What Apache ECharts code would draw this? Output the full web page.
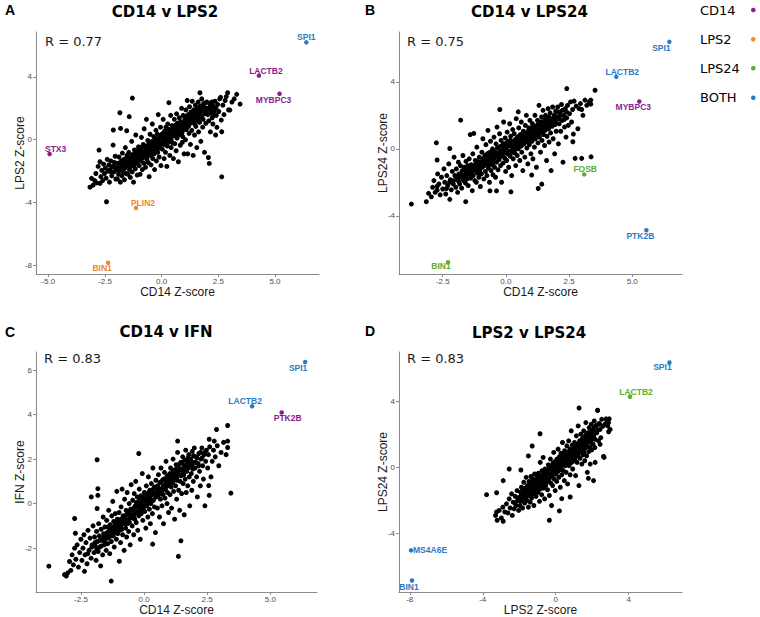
<!DOCTYPE html>
<html>
<head>
<meta charset="utf-8">
<script src="https://cdn.jsdelivr.net/npm/echarts@6/dist/echarts.min.js"></script>
<style>
html,body{margin:0;padding:0;background:#fff;}
#chart{width:760px;height:617px;}
</style>
</head>
<body>
<div id="chart"></div>
<script>
// ---------------- DATA ----------------
const panelTitles = ['CD14 v LPS2', 'CD14 v LPS24', 'CD14 v IFN', 'LPS2 v LPS24'];
const panelLetters = ['A', 'B', 'C', 'D'];
const rValues = ['0.77', '0.75', '0.83', '0.83'];
const xTitles = ['CD14 Z-score', 'CD14 Z-score', 'CD14 Z-score', 'LPS2 Z-score'];
const yTitles = ['LPS2 Z-score', 'LPS24 Z-score', 'IFN Z-score', 'LPS24 Z-score'];
const legendGroups = ['CD14', 'LPS2', 'LPS24', 'BOTH'];

const xTicksA = [-5, -2.5, 0, 2.5, 5];
const yTicksA = [-8, -4, 0, 4];
const xTicksB = [-2.5, 0, 2.5, 5];
const yTicksB = [-4, 0, 4];
const xTicksC = [-2.5, 0, 2.5, 5];
const yTicksC = [-2, 0, 2, 4, 6];
const xTicksD = [-8, -4, 0, 4];
const yTicksD = [-4, 0, 4];

// Panel A: CD14 (x) vs LPS2 (y)
const ptsCd14Lps2 = [
[-3.16,-3.02],[-3.09,-2.46],[-3.02,-2.89],[-2.95,-2.6],[-2.9,-2.15],[-2.86,-2.75],[-2.8,-1.7],[-2.76,-0.66],[-2.72,-2.78],[-2.72,-1.4],[-2.68,-2.35],[-2.64,-1.95],[-2.6,-2.6],[-2.56,-1.55],[-2.52,-2.15],[-2.48,-1.8],[-2.45,-2.45],[-2.43,-3.95],[-2.4,-1.25],[-2.36,-2.0],[-2.33,-1.6],[-2.3,-2.7],[-2.27,-1.9],[-2.24,-1.35],[-2.2,-2.3],[-2.17,-1.7],[-2.14,-0.34],[-2.13,0.62],[-2.1,-2.05],[-2.08,-1.45],[-2.05,-1.05],[-2.02,-2.5],[-2.0,-1.8],
[-1.98,-1.85],[-1.95,-2.5],[-1.93,-1.5],[-1.9,-2.2],[-1.88,-1.1],[-1.84,1.72],[-1.85,-1.7],[-1.82,-2.7],[-1.81,0.72],[-1.8,-1.95],[-1.78,-1.35],[-1.75,-2.3],[-1.73,-0.85],[-1.7,-1.6],[-1.68,-2.05],[-1.66,-1.25],[-1.64,-2.55],[-1.62,-1.8],[-1.6,-0.5],[-1.58,-1.45],[-1.56,-2.15],[-1.54,0.57],[-1.53,-1.0],[-1.51,-1.65],
[-1.49,-2.2],[-1.47,-1.35],[-1.45,-0.8],[-1.43,1.47],[-1.42,-1.9],[-1.4,-1.5],[-1.38,-2.4],[-1.36,-1.15],[-1.34,-1.7],[-1.32,-0.1],[-1.3,-2.05],[-1.29,2.65],[-1.28,-0.95],[-1.26,-1.4],[-1.24,-2.7],[-1.22,-1.6],[-1.2,-0.65],[-1.18,-1.25],[-1.16,-1.85],[-1.14,0.3],[-1.12,-1.05],[-1.1,-1.5],[-1.08,-2.25],[-1.06,-0.8],[-1.04,-1.3],[-1.02,-0.45],
[-0.99,-1.65],[-0.97,-1.0],[-0.95,-2.2],[-0.93,-0.5],[-0.91,-1.35],[-0.89,0.15],[-0.87,-0.8],[-0.85,-1.9],[-0.83,-1.15],[-0.81,-0.3],[-0.79,-1.5],[-0.77,0.7],[-0.75,-0.65],[-0.73,-1.0],[-0.71,-1.75],[-0.69,-0.4],[-0.67,1.3],[-0.65,-1.25],[-0.63,-0.75],[-0.61,-0.05],[-0.59,-1.45],[-0.57,-0.9],[-0.55,-2.35],[-0.53,-0.55],[-0.51,0.35],
[-0.49,-1.0],[-0.47,-1.6],[-0.45,-0.25],[-0.43,-0.7],[-0.41,1.0],[-0.39,-1.2],[-0.37,-0.5],[-0.35,0.2],[-0.33,-0.9],[-0.31,-1.9],[-0.29,-0.1],[-0.27,-0.6],[-0.25,0.6],[-0.23,-1.35],[-0.21,-0.35],[-0.19,0.35],[-0.17,-0.8],[-0.15,1.6],[-0.13,-0.15],[-0.11,-1.1],[-0.09,0.1],[-0.07,-0.5],[-0.05,0.8],[-0.03,-1.65],[-0.01,-0.25],
[0.01,0.35],[0.03,-0.6],[0.05,0.1],[0.07,1.3],[0.09,-0.3],[0.11,-1.2],[0.13,0.55],[0.15,-0.05],[0.17,-0.8],[0.19,0.8],[0.21,0.2],[0.23,-1.7],[0.25,-0.4],[0.27,1.0],[0.29,0.4],[0.31,-0.15],[0.32,2.36],[0.34,0.65],[0.36,-1.0],[0.38,0.1],[0.4,1.55],[0.42,-0.5],[0.44,0.3],[0.46,0.9],[0.48,-0.2],
[0.5,0.65],[0.52,-1.2],[0.54,0.25],[0.56,1.3],[0.58,-0.25],[0.6,0.85],[0.62,0.45],[0.64,-0.7],[0.66,1.65],[0.68,0.1],[0.7,1.05],[0.72,0.6],[0.74,-1.4],[0.76,0.3],[0.78,1.4],[0.8,0.75],[0.82,-0.35],[0.84,1.15],[0.86,0.45],[0.88,2.0],[0.9,0.9],[0.91,-0.17],[0.93,0.2],[0.95,1.55],[0.97,0.65],[0.99,-0.9],
[1.01,1.45],[1.03,1.0],[1.05,0.0],[1.07,1.9],[1.09,0.65],[1.11,1.25],[1.13,2.5],[1.15,-0.9],[1.17,1.6],[1.19,0.9],[1.21,0.4],[1.23,2.1],[1.25,1.35],[1.27,-0.3],[1.29,1.75],[1.31,1.1],[1.33,0.6],[1.35,2.45],[1.37,1.5],[1.39,-1.0],[1.41,1.9],[1.43,1.25],[1.45,0.3],[1.47,1.65],[1.49,2.2],
[1.51,0.85],[1.53,1.45],[1.55,-0.5],[1.57,2.0],[1.59,1.3],[1.61,2.4],[1.63,0.5],[1.65,1.7],[1.67,1.1],[1.69,2.99],[1.71,2.15],[1.73,-0.1],[1.75,1.5],[1.77,2.6],[1.79,1.85],[1.81,0.8],[1.83,1.3],[1.85,2.3],[1.87,2.05],[1.89,-0.8],[1.91,1.65],[1.93,2.35],[1.95,1.05],[1.97,1.8],[1.99,2.4],
[2.02,1.95],[2.06,-1.13],[2.08,1.2],[2.1,-1.51],[2.12,2.3],[2.15,0.5],[2.18,1.7],[2.2,2.4],[2.23,1.4],[2.26,1.0],[2.29,2.1],[2.32,1.8],[2.35,2.45],[2.38,0.3],[2.41,1.55],[2.44,0.79],[2.47,2.25],
[2.52,1.8],[2.56,2.6],[2.6,2.7],[2.63,1.25],[2.65,0.51],[2.65,-2.36],[2.7,2.2],[2.75,1.6],[2.8,2.5],[2.85,2.75],[2.91,2.99],[2.95,1.9],[3.01,1.89],[3.1,2.4],[3.2,2.6],[3.31,2.89],[3.46,2.27],
[-2.23,-2.05],[-2.07,-1.75],[-1.94,-1.95],[-1.87,-1.55],[-1.76,-1.75],[-1.69,-1.4],[-1.61,-1.55],[-1.57,-1.2],[-1.48,-1.6],[-1.44,-1.25],[-1.37,-1.55],[-1.33,-1.05],[-1.27,-1.25],[-1.21,-0.95],[-1.17,-1.45],[-1.13,-0.85],[-1.07,-1.1],[-1.03,-0.65],[-0.96,-1.25],[-0.92,-0.75],[-0.88,-1.05],[-0.84,-0.6],[-0.78,-0.95],[-0.74,-0.45],[-0.7,-0.8],[-0.66,-0.55],[-0.62,-1.05],[-0.58,-0.35],[-0.54,-0.75],[-0.5,-0.2],[-0.46,-0.55],[-0.42,-0.1],[-0.38,-0.85],[-0.34,-0.3],[-0.3,-0.6],[-0.26,0.05],[-0.22,-0.45],[-0.18,-0.05],[-0.14,-0.55],[-0.1,0.25],[-0.06,-0.3],[-0.02,0.15],[0.02,-0.15],[0.06,0.4],[0.1,0.0],[0.14,0.25],[0.18,-0.3],[0.22,0.5],[0.26,0.1],[0.3,0.65],[0.34,0.2],[0.38,0.45],[0.42,0.0],[0.46,0.55],[0.5,0.3],[0.54,0.75],[0.58,0.45],[0.62,0.95],[0.66,0.6],[0.7,0.3],[0.74,0.85],[0.78,0.55],[0.82,1.1],[0.86,0.8],[0.9,0.45],[0.94,1.05],[0.98,0.8],[1.02,1.25],[1.06,0.95],[1.1,1.5],[1.14,1.15],[1.18,0.85],[1.22,1.35],[1.26,1.05],[1.3,1.55],[1.34,1.25],[1.38,1.75],[1.42,1.45],[1.46,1.0],[1.5,1.6],[1.54,1.85],[1.58,1.5],[1.62,1.2],[1.66,1.95],[1.7,1.6],[1.74,1.85],[1.78,1.4],[1.84,2.1],[1.9,1.8],[1.96,2.0],[2.04,1.6],[2.1,2.05],[2.16,1.9],[2.24,2.2],[2.3,1.55],[2.4,2.0]
];

// Panel B: CD14 (x) vs LPS24 (y)
const ptsCd14Lps24 = [
[-3.74,-3.3],[-3.15,-3.16],[-3.06,-2.66],[-2.95,-2.87],[-2.75,0.36],[-2.72,-0.67],[-2.72,-2.47],[-2.72,-2.23],[-2.35,-2.37],[-2.22,0.02],[-1.79,1.71],[-1.59,-3.16],[-0.24,2.35],[0.49,2.21],[0.2,-2.57],[2.41,3.6],[3.53,3.5],[3.36,2.91],[3.36,2.67],[2.74,-0.57],[3.0,-0.57],[3.37,-0.48],[1.28,-2.37],[1.42,-2.11],[1.02,-1.57],[-0.63,-2.51],[-0.37,-2.51],[2.65,0.42],[2.67,0.88],[3.0,2.35],[3.13,2.91],
[-2.9,-2.3],[-2.85,-1.9],[-2.8,-2.6],[-2.7,-1.5],[-2.65,-2.1],[-2.6,-2.75],[-2.55,-1.7],[-2.5,-2.4],[-2.45,-1.2],[-2.42,-2.0],[-2.38,-2.7],[-2.34,-1.6],[-2.3,-2.2],[-2.26,-0.9],[-2.22,-3.02],[-2.2,-1.85],[-2.16,-2.45],[-2.12,-1.35],[-2.08,-2.1],[-2.05,-0.5],[-2.02,-1.6],
[-1.98,-2.3],[-1.96,-1.2],[-1.93,-1.8],[-1.91,-2.6],[-1.88,-0.8],[-1.86,-1.5],[-1.83,-2.1],[-1.8,-1.0],[-1.78,-1.7],[-1.75,-2.35],[-1.73,-1.3],[-1.7,-0.4],[-1.68,-1.9],[-1.65,-1.1],[-1.62,-1.55],[-1.6,-2.05],[-1.58,-0.75],[-1.55,-1.35],[-1.53,-1.8],[-1.51,-1.0],
[-1.49,-2.2],[-1.47,-1.5],[-1.45,-0.6],[-1.43,-1.15],[-1.41,0.85],[-1.39,-1.75],[-1.37,-0.95],[-1.35,-1.35],[-1.33,-2.5],[-1.31,-0.3],[-1.29,-1.6],[-1.27,0.92],[-1.25,-1.0],[-1.23,-1.9],[-1.21,-0.7],[-1.19,-1.25],[-1.17,-2.0],[-1.15,0.1],[-1.13,-1.45],[-1.11,-0.85],[-1.09,-1.15],[-1.07,-1.7],[-1.05,-0.5],[-1.03,-1.3],[-1.01,-2.25],
[-0.99,-0.9],[-0.97,-1.5],[-0.95,-0.2],[-0.93,-1.1],[-0.91,0.6],[-0.89,-0.7],[-0.87,-1.8],[-0.85,-1.0],[-0.83,-0.4],[-0.81,-1.35],[-0.79,0.25],[-0.77,-0.85],[-0.75,-1.6],[-0.73,-0.55],[-0.71,1.1],[-0.69,-1.15],[-0.67,-0.25],[-0.65,-2.0],[-0.63,-0.75],[-0.61,0.45],[-0.59,-1.3],[-0.57,-0.5],[-0.55,-0.95],[-0.53,0.0],[-0.51,-1.55],
[-0.49,-0.6],[-0.47,0.7],[-0.45,-1.1],[-0.43,-0.3],[-0.41,-1.7],[-0.39,0.3],[-0.37,-0.8],[-0.35,1.3],[-0.33,-0.45],[-0.31,-1.25],[-0.29,0.05],[-0.27,-0.65],[-0.25,0.9],[-0.23,-0.2],[-0.21,-1.0],[-0.19,0.5],[-0.17,-2.0],[-0.15,-0.4],[-0.13,0.2],[-0.11,-0.85],[-0.09,1.6],[-0.07,-0.1],[-0.05,-0.55],[-0.03,0.65],[-0.01,-1.35],
[0.01,0.1],[0.03,-0.7],[0.05,1.0],[0.07,-0.3],[0.09,0.45],[0.11,-1.1],[0.13,0.2],[0.15,1.5],[0.17,-0.45],[0.19,0.75],[0.21,-0.1],[0.23,-1.6],[0.25,0.35],[0.27,1.15],[0.29,-0.6],[0.31,0.05],[0.33,0.9],[0.35,-0.25],[0.37,0.55],[0.39,-1.0],[0.41,1.8],[0.43,0.25],[0.45,-0.4],[0.47,0.7],[0.49,0.0],
[0.51,1.25],[0.53,0.4],[0.55,-0.7],[0.57,0.85],[0.59,0.15],[0.61,1.6],[0.63,-0.2],[0.65,0.6],[0.67,-1.3],[0.69,1.05],[0.71,0.3],[0.73,0.8],[0.75,-0.5],[0.77,1.4],[0.79,0.5],[0.81,2.0],[0.83,0.05],[0.85,0.95],[0.87,-0.9],[0.89,0.65],[0.91,1.25],[0.93,0.25],[0.95,1.7],[0.97,0.75],[0.99,-0.3],
[1.01,1.0],[1.03,0.45],[1.05,1.5],[1.07,-0.6],[1.09,0.8],[1.11,1.2],[1.13,0.1],[1.15,2.0],[1.17,0.6],[1.19,1.35],[1.21,-1.1],[1.23,0.95],[1.25,1.7],[1.27,0.35],[1.29,1.15],[1.31,2.6],[1.33,0.7],[1.35,1.45],[1.37,-0.2],[1.39,1.0],[1.41,1.9],[1.43,0.5],[1.45,1.3],[1.47,2.3],[1.49,0.85],
[1.51,1.6],[1.53,0.2],[1.55,1.1],[1.57,2.0],[1.59,1.4],[1.61,-0.7],[1.63,0.75],[1.65,1.75],[1.67,2.4],[1.69,1.2],[1.71,0.4],[1.73,1.55],[1.75,2.15],[1.77,0.95],[1.79,-1.3],[1.81,1.8],[1.83,1.35],[1.85,2.5],[1.87,0.6],[1.89,1.65],[1.91,2.0],[1.93,-0.3],[1.95,1.45],[1.97,2.25],[1.99,1.05],
[2.02,1.9],[2.05,2.5],[2.08,0.3],[2.11,1.5],[2.14,2.2],[2.17,1.05],[2.2,2.65],[2.23,1.7],[2.26,-0.8],[2.29,2.0],[2.32,1.3],[2.35,2.4],[2.38,0.7],[2.41,1.85],[2.44,2.6],[2.47,1.4],
[2.52,2.1],[2.56,2.8],[2.6,1.6],[2.64,2.35],[2.7,2.85],[2.78,2.55],[2.85,1.2],[2.9,2.4],[2.95,2.7],[3.05,2.0],[3.2,2.6],[3.3,2.8],
[-2.23,-2.0],[-2.07,-1.9],[-1.94,-1.7],[-1.87,-1.95],[-1.76,-1.55],[-1.69,-1.75],[-1.61,-1.3],[-1.57,-1.6],[-1.48,-1.25],[-1.44,-1.5],[-1.37,-1.15],[-1.33,-1.4],[-1.27,-1.2],[-1.21,-0.95],[-1.17,-1.35],[-1.13,-0.75],[-1.07,-1.05],[-1.03,-0.8],[-0.96,-1.05],[-0.92,-0.6],[-0.88,-0.9],[-0.84,-0.55],[-0.78,-0.75],[-0.74,-0.3],[-0.7,-0.95],[-0.66,-0.45],[-0.62,-0.2],[-0.58,-0.7],[-0.54,-0.35],[-0.5,-0.85],[-0.46,-0.15],[-0.42,-0.5],[-0.38,-0.25],[-0.34,0.05],[-0.3,-0.55],[-0.26,-0.3],[-0.22,0.15],[-0.18,-0.45],[-0.14,-0.1],[-0.1,0.3],[-0.06,-0.25],[-0.02,0.1],[0.02,0.35],[0.06,-0.1],[0.1,0.2],[0.14,-0.35],[0.18,0.5],[0.22,0.15],[0.26,-0.2],[0.3,0.45],[0.34,0.3],[0.38,0.0],[0.42,0.6],[0.46,0.35],[0.5,0.15],[0.54,0.75],[0.58,0.5],[0.62,0.2],[0.66,0.9],[0.7,0.6],[0.74,0.35],[0.78,0.95],[0.82,0.7],[0.86,0.45],[0.9,1.1],[0.94,0.8],[0.98,0.55],[1.02,1.25],[1.06,0.9],[1.1,0.65],[1.14,1.3],[1.18,1.05],[1.22,0.8],[1.26,1.45],[1.3,1.15],[1.34,0.95],[1.38,1.6],[1.42,1.25],[1.46,1.05],[1.5,1.4],[1.54,1.75],[1.58,1.2],[1.62,1.55],[1.66,1.3],[1.7,1.9],[1.74,1.45],[1.78,1.7],[1.84,1.5],[1.9,1.85],[1.96,1.65],[2.04,2.2],[2.1,1.8],[2.16,2.0],[2.24,2.3],[2.3,1.75],[2.4,2.2]
];

// Panel C: CD14 (x) vs IFN (y)
const ptsCd14Ifn = [
[-3.77,-2.81],[-3.15,-3.19],[-3.02,-3.11],[-3.08,-3.25],[-2.36,-3.04],[-1.86,1.97],[-2.09,0.3],[-1.83,0.37],[-1.83,0.67],[-1.86,-0.22],[-2.75,-0.67],[-2.72,-1.33],[-0.98,-2.59],[-1.3,-3.48],[0.34,-1.82],[1.46,-1.67],[1.36,-2.37],[3.44,0.47],[3.31,3.51],[2.87,3.33],[2.58,2.89],[2.78,2.81],[3.31,2.81],[3.31,2.52],[1.33,2.81],[-0.21,2.25],[2.58,0.37],[2.56,0.81],
[-2.95,-2.6],[-2.9,-3.0],[-2.85,-2.3],[-2.8,-2.75],[-2.75,-2.0],[-2.7,-2.5],[-2.65,-1.85],[-2.6,-2.85],[-2.55,-2.2],[-2.5,-1.6],[-2.46,-2.55],[-2.42,-2.0],[-2.38,-1.4],[-2.34,-2.3],[-2.3,-1.75],[-2.26,-2.7],[-2.22,-1.2],[-2.18,-2.1],[-2.14,-1.55],[-2.1,-2.45],[-2.06,-1.85],[-2.02,-1.0],
[-1.98,-2.2],[-1.96,-1.5],[-1.93,-1.9],[-1.9,-2.55],[-1.88,-1.25],[-1.85,-1.7],[-1.82,-2.15],[-1.8,-0.9],[-1.77,-1.45],[-1.75,-1.95],[-1.72,-2.8],[-1.7,-1.15],[-1.67,-1.65],[-1.64,-2.3],[-1.62,-0.6],[-1.6,-1.35],[-1.57,-1.85],[-1.55,-1.05],[-1.52,-1.55],[-1.5,-2.1],
[-1.48,-0.75],[-1.46,-1.3],[-1.44,-1.8],[-1.42,-1.05],[-1.4,-0.3],[-1.38,-1.5],[-1.36,-2.25],[-1.34,-0.95],[-1.32,-1.25],[-1.3,-1.7],[-1.28,-0.55],[-1.26,-1.1],[-1.24,0.1],[-1.22,-1.45],[-1.2,-0.8],[-1.18,-1.95],[-1.16,-1.2],[-1.14,-0.45],[-1.12,-1.0],[-1.1,-1.6],[-1.08,0.55],[-1.06,-0.7],[-1.04,-1.35],[-1.02,-0.95],
[-0.99,-0.4],[-0.97,-1.2],[-0.95,-0.75],[-0.93,-1.75],[-0.91,-0.15],[-0.89,-0.95],[-0.87,0.65],[-0.85,-1.4],[-0.83,-0.55],[-0.81,-0.85],[-0.79,-2.1],[-0.77,0.2],[-0.75,-0.7],[-0.73,-1.1],[-0.71,-0.3],[-0.69,-1.5],[-0.67,0.5],[-0.65,-0.9],[-0.63,-0.45],[-0.61,-1.25],[-0.59,0.0],[-0.57,-0.65],[-0.55,-1.85],[-0.53,-0.25],[-0.51,0.85],
[-0.49,-0.5],[-0.47,-1.0],[-0.45,0.15],[-0.43,-0.3],[-0.41,-1.4],[-0.39,0.45],[-0.37,-0.7],[-0.35,-0.1],[-0.33,1.0],[-0.31,-0.85],[-0.29,-0.4],[-0.27,0.3],[-0.25,-1.2],[-0.23,0.0],[-0.21,-0.55],[-0.19,0.65],[-0.17,-0.2],[-0.15,-1.6],[-0.13,0.35],[-0.11,-0.45],[-0.09,0.1],[-0.07,1.35],[-0.05,-0.75],[-0.03,0.25],[-0.01,-0.1],
[0.01,0.5],[0.03,-0.35],[0.05,0.1],[0.07,-1.1],[0.09,0.8],[0.11,-0.05],[0.13,0.35],[0.15,-0.6],[0.17,1.2],[0.19,0.2],[0.21,-0.25],[0.23,0.6],[0.25,-0.9],[0.27,0.0],[0.29,0.9],[0.31,0.4],[0.33,-0.45],[0.35,1.6],[0.37,0.15],[0.39,0.7],[0.41,-0.15],[0.43,0.45],[0.45,-1.3],[0.47,1.05],[0.49,0.3],
[0.51,0.75],[0.53,-0.2],[0.55,0.35],[0.57,1.3],[0.59,0.55],[0.61,-0.6],[0.63,0.95],[0.65,0.2],[0.67,1.6],[0.69,0.6],[0.71,-0.1],[0.73,1.05],[0.75,0.4],[0.77,-0.9],[0.79,0.8],[0.81,1.4],[0.83,0.25],[0.85,0.65],[0.87,1.9],[0.89,1.0],[0.91,0.0],[0.93,0.5],[0.95,1.25],[0.97,-0.4],[0.99,0.85],
[1.01,1.1],[1.03,0.4],[1.05,1.6],[1.07,0.75],[1.09,-0.2],[1.11,1.3],[1.13,0.95],[1.15,2.0],[1.17,0.55],[1.19,1.15],[1.21,-0.7],[1.23,1.45],[1.25,0.8],[1.27,1.75],[1.29,0.2],[1.31,1.05],[1.33,2.3],[1.35,1.3],[1.37,0.6],[1.39,1.55],[1.41,-0.3],[1.43,1.0],[1.45,1.85],[1.47,1.25],[1.49,0.45],
[1.51,1.5],[1.53,2.1],[1.55,0.9],[1.57,1.3],[1.59,-0.5],[1.61,1.7],[1.63,1.1],[1.65,2.4],[1.67,0.5],[1.69,1.45],[1.71,1.9],[1.73,0.8],[1.75,1.6],[1.77,2.2],[1.79,1.2],[1.81,-0.1],[1.83,1.75],[1.85,2.0],[1.87,1.35],[1.89,0.6],[1.91,2.35],[1.93,1.55],[1.95,1.0],[1.97,1.85],[1.99,2.5],
[2.02,1.6],[2.05,2.1],[2.08,1.2],[2.11,0.3],[2.14,1.8],[2.17,2.25],[2.2,1.45],[2.23,0.8],[2.26,2.0],[2.29,2.5],[2.32,1.7],[2.35,1.1],[2.38,2.2],[2.41,-0.1],[2.44,1.9],[2.47,2.4],
[2.52,1.6],[2.55,2.2],[2.6,2.55],[2.65,1.2],[2.7,1.9],[2.75,2.4],[2.82,2.1],[2.9,2.6],[2.96,1.7],[3.05,2.3],[3.15,2.75],[3.25,2.2],
[-2.23,-2.25],[-2.07,-1.95],[-1.94,-1.75],[-1.87,-2.05],[-1.76,-1.65],[-1.69,-1.9],[-1.61,-1.5],[-1.57,-1.7],[-1.48,-1.4],[-1.44,-1.55],[-1.37,-1.2],[-1.33,-1.45],[-1.27,-1.35],[-1.21,-1.05],[-1.17,-1.3],[-1.13,-0.95],[-1.07,-1.15],[-1.03,-0.8],[-0.96,-1.0],[-0.92,-0.7],[-0.88,-1.15],[-0.84,-0.8],[-0.78,-0.6],[-0.74,-0.9],[-0.7,-0.5],[-0.66,-0.75],[-0.62,-0.35],[-0.58,-0.85],[-0.54,-0.5],[-0.5,-0.3],[-0.46,-0.65],[-0.42,-0.2],[-0.38,-0.5],[-0.34,-0.3],[-0.3,0.05],[-0.26,-0.4],[-0.22,-0.15],[-0.18,0.2],[-0.14,-0.3],[-0.1,-0.05],[-0.06,0.3],[-0.02,-0.25],[0.02,0.15],[0.06,0.4],[0.1,-0.1],[0.14,0.2],[0.18,0.5],[0.22,0.1],[0.26,0.35],[0.3,0.6],[0.34,0.15],[0.38,0.45],[0.42,0.75],[0.46,0.3],[0.5,0.55],[0.54,0.8],[0.58,0.4],[0.62,0.65],[0.66,0.95],[0.7,0.5],[0.74,0.75],[0.78,1.1],[0.82,0.65],[0.86,0.9],[0.9,1.2],[0.94,0.8],[0.98,1.05],[1.02,1.35],[1.06,0.95],[1.1,1.2],[1.14,1.5],[1.18,1.05],[1.22,1.3],[1.26,1.55],[1.3,1.2],[1.34,1.45],[1.38,1.75],[1.42,1.3],[1.46,1.55],[1.5,1.85],[1.54,1.45],[1.58,1.7],[1.62,1.95],[1.66,1.6],[1.7,1.75],[1.74,2.05],[1.78,1.65],[1.84,1.9],[1.9,1.7],[1.96,2.15],[2.04,1.85],[2.1,2.05],[2.16,1.7],[2.24,2.3],[2.3,2.05],[2.4,2.3]
];

// Panel D: LPS2 (x) vs LPS24 (y)
const ptsLps2Lps24 = [
[-3.79,-1.65],[-3.24,-1.53],[-3.21,-3.19],[-3.24,-2.69],[-2.88,-3.25],[-2.88,-0.8],[-2.55,-0.1],[-1.91,-0.16],[-0.86,2.03],[-1.5,0.69],[-0.35,-3.19],[1.28,3.58],[2.29,3.44],[2.65,0.6],[1.79,-0.66],[2.07,-0.8],[0.79,-1.79],[0.33,-1.89],
[-3.3,-2.9],[-3.1,-2.6],[-2.98,-3.05],[-2.9,-2.4],[-2.79,-2.69],[-2.7,-2.2],[-2.62,-2.75],[-2.55,-1.9],[-2.5,-2.45],[-2.42,-1.6],[-2.38,-2.9],[-2.33,-2.1],[-2.28,-2.5],[-2.22,-1.75],[-2.18,-2.3],[-2.12,-1.4],[-2.08,-2.0],[-2.03,-2.6],
[-1.98,-1.8],[-1.96,-2.3],[-1.93,-1.5],[-1.9,-2.05],[-1.88,-1.2],[-1.85,-1.7],[-1.82,-2.45],[-1.8,-1.35],[-1.77,-1.9],[-1.75,-0.9],[-1.72,-1.55],[-1.7,-2.15],[-1.67,-1.25],[-1.64,-1.75],[-1.62,-0.6],[-1.6,-1.45],[-1.57,-2.0],[-1.55,-1.1],[-1.52,-1.6],[-1.5,-2.4],
[-1.48,-1.3],[-1.46,-0.85],[-1.44,-1.7],[-1.42,-1.05],[-1.4,-2.1],[-1.38,-1.4],[-1.36,-0.55],[-1.34,-1.15],[-1.32,-1.85],[-1.3,-0.9],[-1.29,1.29],[-1.28,-1.35],[-1.26,-0.7],[-1.24,-1.6],[-1.22,-1.0],[-1.2,-2.3],[-1.18,-1.2],[-1.16,-0.4],[-1.14,-0.95],[-1.12,-1.45],[-1.1,-0.75],[-1.08,-1.75],[-1.06,-1.05],[-1.04,-0.5],[-1.02,-1.25],
[-0.99,-0.85],[-0.97,-1.5],[-0.95,-0.35],[-0.93,-1.1],[-0.91,-0.65],[-0.89,-2.05],[-0.87,-0.9],[-0.85,0.3],[-0.83,-1.3],[-0.81,-0.5],[-0.79,-0.75],[-0.77,-1.65],[-0.75,-0.2],[-0.73,-1.0],[-0.71,-0.6],[-0.69,0.6],[-0.67,-1.25],[-0.65,-0.45],[-0.63,-0.85],[-0.61,-1.9],[-0.59,-0.1],[-0.57,-0.7],[-0.55,-1.1],[-0.53,-0.35],[-0.51,-0.6],
[-0.49,-0.9],[-0.47,-0.2],[-0.45,-1.35],[-0.43,-0.55],[-0.41,0.15],[-0.39,-0.75],[-0.37,-0.35],[-0.35,-1.7],[-0.33,-0.05],[-0.31,-0.6],[-0.29,0.5],[-0.27,-0.95],[-0.25,-0.3],[-0.23,-2.3],[-0.21,0.05],[-0.19,-0.5],[-0.17,-1.1],[-0.15,0.25],[-0.13,-0.15],[-0.11,0.9],[-0.09,-0.7],[-0.07,-0.25],[-0.05,0.35],[-0.03,-1.4],[-0.01,0.0],
[0.01,-0.4],[0.03,0.2],[0.05,-0.85],[0.07,0.5],[0.09,0.0],[0.11,-0.25],[0.13,1.1],[0.15,0.3],[0.17,-0.6],[0.19,0.1],[0.2,-2.63],[0.21,0.65],[0.23,-0.15],[0.25,-1.2],[0.27,0.4],[0.29,0.85],[0.31,0.1],[0.33,-0.45],[0.35,0.6],[0.37,1.5],[0.39,0.25],[0.41,-0.2],[0.43,0.75],[0.45,0.35],[0.47,-0.8],[0.49,1.0],
[0.51,0.5],[0.53,0.1],[0.55,0.9],[0.57,-0.3],[0.59,0.65],[0.61,1.3],[0.63,0.3],[0.65,-1.0],[0.67,0.85],[0.69,0.45],[0.71,1.6],[0.73,0.1],[0.75,0.7],[0.77,1.1],[0.79,-0.45],[0.81,0.55],[0.83,0.95],[0.85,2.2],[0.87,0.3],[0.89,0.8],[0.91,1.35],[0.93,-0.1],[0.95,0.65],[0.97,1.05],[0.99,0.4],
[1.01,0.9],[1.03,1.5],[1.05,0.5],[1.07,1.15],[1.09,-0.5],[1.11,0.8],[1.13,1.9],[1.15,1.0],[1.17,0.3],[1.19,1.35],[1.21,0.7],[1.23,2.5],[1.25,1.1],[1.27,-1.1],[1.29,0.9],[1.31,1.6],[1.33,0.55],[1.35,1.25],[1.37,2.0],[1.39,0.95],[1.41,1.45],[1.43,0.2],[1.45,1.15],[1.47,1.75],[1.49,0.75],
[1.51,1.3],[1.53,2.2],[1.55,0.9],[1.57,1.6],[1.59,0.4],[1.61,1.15],[1.63,1.9],[1.65,2.7],[1.67,1.4],[1.69,0.7],[1.71,1.75],[1.73,-0.3],[1.75,1.25],[1.77,2.1],[1.79,1.55],[1.81,0.95],[1.83,2.4],[1.85,1.8],[1.87,1.2],[1.89,0.2],[1.91,2.0],[1.93,1.5],[1.95,2.6],[1.97,1.05],[1.99,1.7],
[2.02,2.25],[2.05,1.4],[2.08,1.9],[2.11,2.8],[2.14,1.2],[2.16,1.69],[2.16,0.3],[2.2,2.5],[2.25,2.09],[2.3,3.44],[2.34,1.6],[2.38,2.65],[2.43,2.29],[2.43,1.39],[2.47,1.79],[2.52,2.9],[2.58,2.48],[2.62,0.66],[2.7,2.6],[2.76,2.93],[2.8,2.84],[2.85,2.5],[2.89,2.69],[2.93,2.93],[2.98,2.29],[2.9,2.15],
[-2.23,-2.15],[-2.07,-1.85],[-1.94,-1.9],[-1.87,-1.6],[-1.76,-1.65],[-1.69,-1.85],[-1.61,-1.5],[-1.57,-1.7],[-1.48,-1.55],[-1.44,-1.3],[-1.37,-1.5],[-1.33,-1.2],[-1.27,-1.45],[-1.21,-1.15],[-1.17,-0.95],[-1.13,-1.25],[-1.07,-0.9],[-1.03,-1.15],[-0.96,-0.95],[-0.92,-0.75],[-0.88,-1.1],[-0.84,-0.7],[-0.78,-0.9],[-0.74,-0.55],[-0.7,-0.8],[-0.66,-0.65],[-0.62,-0.4],[-0.58,-0.85],[-0.54,-0.5],[-0.5,-0.25],[-0.46,-0.6],[-0.42,-0.35],[-0.38,-0.1],[-0.34,-0.5],[-0.3,-0.25],[-0.26,0.1],[-0.22,-0.35],[-0.18,-0.1],[-0.14,0.15],[-0.1,-0.3],[-0.06,0.05],[-0.02,-0.2],[0.02,0.3],[0.06,0.05],[0.1,-0.15],[0.14,0.35],[0.18,0.1],[0.22,0.45],[0.26,0.2],[0.3,-0.05],[0.34,0.45],[0.38,0.3],[0.42,0.55],[0.46,0.15],[0.5,0.7],[0.54,0.45],[0.58,0.25],[0.62,0.75],[0.66,0.5],[0.7,0.9],[0.74,0.55],[0.78,0.8],[0.82,0.35],[0.86,1.0],[0.9,0.7],[0.94,1.1],[0.98,0.85],[1.02,0.6],[1.06,1.2],[1.1,0.95],[1.14,1.35],[1.18,1.1],[1.22,0.9],[1.26,1.4],[1.3,1.2],[1.34,1.55],[1.38,1.25],[1.42,1.05],[1.46,1.55],[1.5,1.35],[1.54,1.75],[1.58,1.45],[1.62,1.6],[1.66,1.95],[1.7,1.5],[1.74,1.85],[1.78,1.7],[1.84,2.0],[1.9,1.75],[1.96,2.2],[2.04,1.9],[2.1,2.4],[2.16,2.1],[2.24,2.55],[2.3,2.25],[2.4,2.6]
];

// Highlighted genes per panel
const hlNamesA = ['SPI1', 'LACTB2', 'MYBPC3', 'STX3', 'PLIN2', 'BIN1'];
const hlXA = [6.38, 4.29, 5.2, -4.94, -1.13, -2.36];
const hlYA = [6.2, 4.08, 2.93, -0.91, -4.35, -7.83];
const hlGroupA = ['BOTH', 'CD14', 'CD14', 'CD14', 'LPS2', 'LPS2'];

const hlNamesB = ['SPI1', 'LACTB2', 'MYBPC3', 'FOSB', 'PTK2B', 'BIN1'];
const hlXB = [6.47, 4.37, 5.28, 3.1, 5.56, -2.29];
const hlYB = [6.39, 4.3, 2.83, -1.53, -4.87, -6.78];
const hlGroupB = ['BOTH', 'BOTH', 'CD14', 'LPS24', 'BOTH', 'LPS24'];

const hlNamesC = ['SPI1', 'LACTB2', 'PTK2B'];
const hlXC = [6.38, 4.28, 5.45];
const hlYC = [6.36, 4.37, 4.09];
const hlGroupC = ['BOTH', 'BOTH', 'CD14'];

const hlNamesD = ['SPI1', 'LACTB2', 'MS4A6E', 'BIN1'];
const hlXD = [6.23, 4.07, -7.93, -7.88];
const hlYD = [6.33, 4.26, -5.01, -6.83];
const hlGroupD = ['BOTH', 'LPS24', 'BOTH', 'BOTH'];

// ---------------- STYLE ----------------
const groupColors = { CD14: '#8c1c8c', LPS2: '#ee8a28', LPS24: '#5cae2c', BOTH: '#2a7ac6' };
const labelOffsets = [
  { SPI1: [0, -5], LACTB2: [7, -5], MYBPC3: [-6, 6], STX3: [6, -5], PLIN2: [7, -5], BIN1: [-6, 5] },
  { SPI1: [-8, 6], LACTB2: [6, -5], MYBPC3: [-6, 6], FOSB: [1, -5], PTK2B: [-6, 6], BIN1: [-7, 4] },
  { SPI1: [-7, 6], LACTB2: [-7, -5], PTK2B: [6, 5] },
  { SPI1: [-7, 5], LACTB2: [6, -5], MS4A6E: [19, 0], BIN1: [-3, 6] }
];
const grids = [
  { left: 36, top: 32, width: 283, height: 242 },
  { left: 399, top: 32, width: 283, height: 242 },
  { left: 36, top: 352, width: 281, height: 242 },
  { left: 399, top: 352, width: 283, height: 242 }
];
const ranges = [
  { x: [-5.54, 6.94], y: [-8.55, 6.86] },
  { x: [-4.23, 6.97], y: [-7.48, 6.98] },
  { x: [-4.28, 6.85], y: [-3.97, 6.81] },
  { x: [-8.59, 6.92], y: [-7.52, 6.96] }
];
const xTicks = [xTicksA, xTicksB, xTicksC, xTicksD];
const yTicks = [yTicksA, yTicksB, yTicksC, yTicksD];
const xFmt = [v => v.toFixed(1), v => v.toFixed(1), v => v.toFixed(1), v => String(Math.round(v))];
const points = [ptsCd14Lps2, ptsCd14Lps24, ptsCd14Ifn, ptsLps2Lps24];
const hl = [
  [hlNamesA, hlXA, hlYA, hlGroupA],
  [hlNamesB, hlXB, hlYB, hlGroupB],
  [hlNamesC, hlXC, hlYC, hlGroupC],
  [hlNamesD, hlXD, hlYD, hlGroupD]
];

const axisLineStyle = { color: '#8a8a8a', width: 1 };
const tickFont = { fontSize: 8, color: '#4d4d4d', fontFamily: '"Liberation Sans", Arial, sans-serif' };

const xAxes = [], yAxes = [], series = [];
for (let i = 0; i < 4; i++) {
  xAxes.push({
    type: 'value', gridIndex: i, min: ranges[i].x[0], max: ranges[i].x[1],
    name: xTitles[i], nameLocation: 'middle', nameGap: 12, nameMoveOverlap: false,
    nameTextStyle: { fontSize: 12, color: '#1a1a1a', fontFamily: '"Liberation Sans", Arial, sans-serif' },
    splitLine: { show: false },
    axisLine: { show: true, onZero: false, lineStyle: axisLineStyle },
    axisTick: { show: true, length: 3, lineStyle: axisLineStyle, customValues: xTicks[i] },
    axisLabel: Object.assign({ margin: 3, customValues: xTicks[i], formatter: xFmt[i] }, tickFont)
  });
  yAxes.push({
    type: 'value', gridIndex: i, min: ranges[i].y[0], max: ranges[i].y[1],
    name: yTitles[i], nameLocation: 'middle', nameGap: 10, nameMoveOverlap: false,
    nameTextStyle: { fontSize: 12, color: '#1a1a1a', fontFamily: '"Liberation Sans", Arial, sans-serif' },
    splitLine: { show: false },
    axisLine: { show: true, onZero: false, lineStyle: axisLineStyle },
    axisTick: { show: true, length: 3, lineStyle: axisLineStyle, customValues: yTicks[i] },
    axisLabel: Object.assign({ margin: 4, customValues: yTicks[i], formatter: v => String(Math.round(v)) }, tickFont)
  });
  series.push({
    type: 'scatter', xAxisIndex: i, yAxisIndex: i, data: points[i],
    symbolSize: 5, itemStyle: { color: '#000', opacity: 1 }, silent: true, animation: false
  });
  const [names, xs, ys, groups] = hl[i];
  series.push({
    type: 'scatter', xAxisIndex: i, yAxisIndex: i, silent: true, animation: false, symbolSize: 4.5,
    data: names.map((n, k) => ({
      name: n, value: [xs[k], ys[k]],
      itemStyle: { color: groupColors[groups[k]], opacity: 1 },
      label: {
        show: true, position: 'inside', formatter: n, offset: labelOffsets[i][n],
        color: groupColors[groups[k]], opacity: 1, fontSize: 8.5, fontWeight: 'bold',
        fontFamily: '"Liberation Sans", Arial, sans-serif'
      }
    }))
  });
}

const titleCenters = [[165, 12], [529.5, 12], [166, 332], [529, 332.5]];
const letterPos = [[10, 10], [370, 10], [10, 331.5], [370, 331]];
const rPos = [[45, 41], [407, 41], [44, 358.5], [407, 358.5]];
const graphics = [];
for (let i = 0; i < 4; i++) {
  graphics.push({ type: 'text', x: titleCenters[i][0], y: titleCenters[i][1], silent: true,
    style: { text: panelTitles[i], font: 'bold 15px "DejaVu Sans"', fill: '#000', align: 'center', verticalAlign: 'middle' } });
  graphics.push({ type: 'text', x: letterPos[i][0], y: letterPos[i][1], silent: true,
    style: { text: panelLetters[i], font: 'bold 14px "Liberation Sans", Arial', fill: '#000', align: 'center', verticalAlign: 'middle' } });
  graphics.push({ type: 'text', x: rPos[i][0], y: rPos[i][1], silent: true,
    style: { text: 'R = ' + rValues[i], font: '13px "DejaVu Sans"', fill: '#1a1a1a', align: 'left', verticalAlign: 'middle' } });
}
const legendY = [10, 39.3, 68.3, 97.7];
legendGroups.forEach((g, k) => {
  graphics.push({ type: 'text', x: 700, y: legendY[k], silent: true,
    style: { text: g, font: '13px "DejaVu Sans"', fill: '#000', align: 'left', verticalAlign: 'middle' } });
  graphics.push({ type: 'circle', shape: { cx: 753.3, cy: legendY[k], r: 2.3 }, silent: true,
    style: { fill: groupColors[g] } });
});

const chart = echarts.init(document.getElementById('chart'), null, { renderer: 'svg', width: 760, height: 617 });
chart.setOption({
  backgroundColor: '#fff',
  animation: false,
  grid: grids,
  xAxis: xAxes,
  yAxis: yAxes,
  series: series,
  graphic: graphics
});
</script>
</body>
</html>
